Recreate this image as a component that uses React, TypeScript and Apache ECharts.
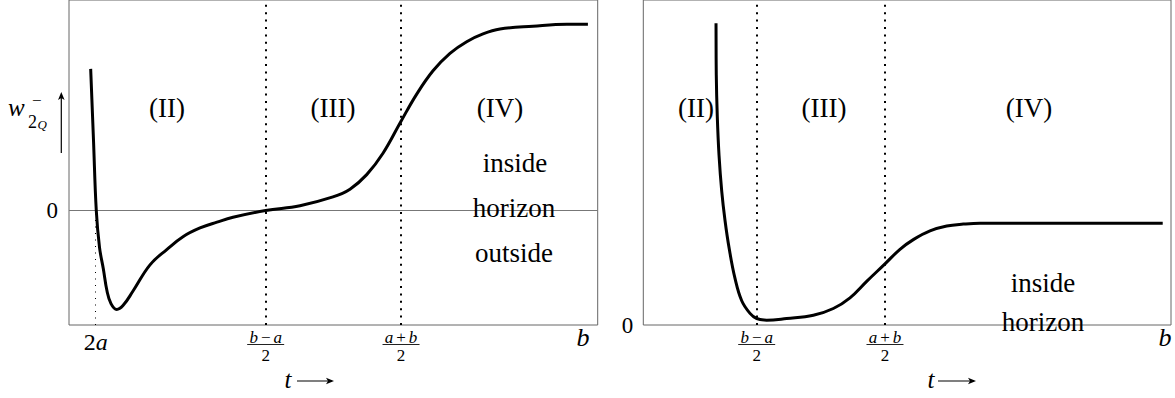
import React, { useEffect, useRef } from 'react';
import * as echarts from 'echarts';

// ---- data (t as % of plotted range, w in arbitrary units) ----
const leftT = [4.10, 4.63, 5.16, 5.77, 6.49, 7.19, 7.94, 9.02, 10.21, 12.11, 15.32, 18.54, 21.56, 24.78, 27.99, 31.02, 37.20, 43.69, 49.93, 53.15, 56.31, 59.39, 62.80, 65.77, 68.85, 72.06, 75.22, 78.31, 81.52, 87.76, 94.19, 98.15];
const leftW = [1.46, 0.73, 0, -0.38, -0.60, -0.83, -0.96, -1.02, -0.98, -0.83, -0.56, -0.40, -0.27, -0.18, -0.12, -0.07, 0, 0.05, 0.14, 0.22, 0.37, 0.59, 0.92, 1.20, 1.44, 1.62, 1.74, 1.82, 1.87, 1.90, 1.92, 1.92];

const rightT = [13.78, 13.83, 14.02, 14.35, 14.86, 15.48, 16.30, 17.38, 18.65, 20.22, 21.49, 23.38, 27.17, 32.22, 36.01, 39.17, 42.33, 45.80, 48.64, 51.17, 54.33, 57.50, 60.64, 63.81, 75.0, 87.0, 98.43];
const rightW = [3.11, 2.58, 2.15, 1.75, 1.38, 1.08, 0.78, 0.48, 0.25, 0.12, 0.067, 0.05, 0.067, 0.10, 0.17, 0.28, 0.45, 0.63, 0.78, 0.88, 0.97, 1.02, 1.04, 1.05, 1.05, 1.05, 1.05];

const leftTicks = [5.05, 37.2, 62.8, 97.2];
const leftTickLabels = ['2a', 'b−a/2', 'a+b/2', 'b'];
const rightTicks = [21.49, 45.8, 98.86];
const rightTickLabels = ['b−a/2', 'a+b/2', 'b'];

const leftRegionLabels = ['(II)', '(III)', '(IV)'];
const leftHorizonLabels = ['inside', 'horizon', 'outside'];
const rightRegionLabels = ['(II)', '(III)', '(IV)'];
const rightHorizonLabels = ['inside', 'horizon'];

const FONT = 'Liberation Serif';

function fmtTick(label: string): string {
  if (label === '2a') return '{n|2}{i|a}';
  if (label === 'b') return '{b|b}';
  const [num, den] = label.split('/');
  const ch = Array.from(num);
  return `{ni|${ch[0]}}{op|${ch[1]}}{ni|${ch[2]}}\n{den|${den}}`;
}

const rich = {
  n: { fontFamily: FONT, fontSize: 24, lineHeight: 24, color: '#000' },
  i: { fontFamily: FONT, fontStyle: 'italic', fontSize: 24, lineHeight: 24, color: '#000' },
  b: { fontFamily: FONT, fontStyle: 'italic', fontSize: 26, lineHeight: 14, color: '#000' },
  ni: { fontFamily: FONT, fontStyle: 'italic', fontSize: 17, lineHeight: 14, color: '#000' },
  op: { fontFamily: FONT, fontSize: 17, lineHeight: 14, padding: [0, 3], color: '#000' },
  den: { fontFamily: FONT, fontSize: 17, lineHeight: 22, color: '#000' },
};

function txt(text: string, x: number, y: number, size: number, opts: any = {}) {
  return {
    type: 'text',
    x,
    y,
    z: 100,
    style: {
      text,
      fill: '#000',
      fontFamily: FONT,
      fontSize: size,
      fontStyle: opts.italic ? 'italic' : 'normal',
      align: opts.align || 'center',
      verticalAlign: 'middle',
    },
  };
}

function arrowRight(x1: number, x2: number, y: number) {
  return [
    { type: 'line', z: 100, shape: { x1, y1: y, x2: x2 - 2, y2: y }, style: { stroke: '#000', lineWidth: 1.2 } },
    { type: 'polygon', z: 100, shape: { points: [[x2, y], [x2 - 8, y - 3.3], [x2 - 6, y], [x2 - 8, y + 3.3]] }, style: { fill: '#000' } },
  ];
}

export default function App() {
  const ref = useRef<HTMLDivElement>(null);
  useEffect(() => {
    if (!ref.current) return;
    const chart = echarts.init(ref.current, undefined, { renderer: 'svg' });

    const dotted = { color: '#000', width: 2, type: [2, 5.4] };
    const axisCommon = {
      type: 'value',
      splitLine: { show: false },
      axisLine: { show: false },
      axisTick: { show: false },
    };

    const option: any = {
      animation: false,
      textStyle: { fontFamily: FONT },
      grid: [
        { left: 69, right: 577.3, top: -10, bottom: 73, show: true, borderColor: '#666', borderWidth: 1 },
        { left: 643.3, right: 4, top: -10, bottom: 73, show: true, borderColor: '#666', borderWidth: 1 },
      ],
      xAxis: [
        {
          ...axisCommon, gridIndex: 0, min: 0, max: 100,
          axisLabel: {
            customValues: leftTicks, margin: 5, rich, fontFamily: FONT,
            formatter: (v: number) => fmtTick(leftTickLabels[leftTicks.indexOf(v)] || ''),
          },
        },
        {
          ...axisCommon, gridIndex: 1, min: 0, max: 100,
          axisLabel: {
            customValues: rightTicks, margin: 5, rich, fontFamily: FONT,
            formatter: (v: number) => fmtTick(rightTickLabels[rightTicks.indexOf(v)] || ''),
          },
        },
      ],
      yAxis: [
        {
          ...axisCommon, gridIndex: 0, min: -1.18, max: 2.17,
          axisLabel: { customValues: [0], formatter: () => '0', margin: 11, fontFamily: FONT, fontSize: 23, color: '#000' },
        },
        {
          ...axisCommon, gridIndex: 1, min: 0, max: 3.35,
          axisLabel: { customValues: [0], formatter: () => '0', margin: 10, fontFamily: FONT, fontSize: 23, color: '#000', padding: [0, 0, 6, 0] },
        },
      ],
      series: [
        {
          type: 'line', xAxisIndex: 0, yAxisIndex: 0,
          data: leftT.map((t, i) => [t, leftW[i]]),
          showSymbol: false, smooth: 0.4,
          lineStyle: { color: '#000', width: 3 },
          z: 5,
          markLine: {
            silent: true, symbol: ['none', 'none'], label: { show: false },
            z: 3,
            data: [
              { xAxis: leftTicks[1], lineStyle: dotted },
              { xAxis: leftTicks[2], lineStyle: dotted },
              [
                { coord: [leftTicks[0], -1.18], lineStyle: { color: '#000', width: 1, type: [1, 5.5] } },
                { coord: [leftTicks[0], 0] },
              ],
              { yAxis: 0, lineStyle: { color: '#777', width: 1, type: 'solid' } },
            ],
          },
        },
        {
          type: 'line', xAxisIndex: 1, yAxisIndex: 1,
          data: rightT.map((t, i) => [t, rightW[i]]),
          showSymbol: false, smooth: 0.4,
          lineStyle: { color: '#000', width: 3 },
          z: 5,
          markLine: {
            silent: true, symbol: ['none', 'none'], label: { show: false },
            z: 3,
            data: [
              { xAxis: rightTicks[0], lineStyle: dotted },
              { xAxis: rightTicks[1], lineStyle: dotted },
            ],
          },
        },
      ],
    };

    const graphics: any[] = [
      // left panel annotations
      txt(leftRegionLabels[0], 167, 108, 27),
      txt(leftRegionLabels[1], 333, 108, 27),
      txt(leftRegionLabels[2], 500, 108, 27),
      txt(leftHorizonLabels[0], 515, 163, 27),
      txt(leftHorizonLabels[1], 514, 208, 27),
      txt(leftHorizonLabels[2], 514, 253, 27),
      // right panel annotations
      txt(rightRegionLabels[0], 696, 108, 27),
      txt(rightRegionLabels[1], 824, 108, 27),
      txt(rightRegionLabels[2], 1029, 108, 27),
      txt(rightHorizonLabels[0], 1043, 283, 27),
      txt(rightHorizonLabels[1], 1043, 322, 27),
      // y-axis name w^-_{2_Q} with arrow
      txt('w', 8, 107, 25, { italic: true, align: 'left' }),
      txt('−', 32, 100, 17, { align: 'left' }),
      txt('2', 28, 121.5, 18, { align: 'left' }),
      txt('Q', 37.5, 124, 13, { italic: true, align: 'left' }),
      { type: 'line', z: 100, shape: { x1: 61.3, y1: 153, x2: 61.3, y2: 96 }, style: { stroke: '#000', lineWidth: 1.2 } },
      { type: 'polygon', z: 100, shape: { points: [[61.3, 92], [58, 100], [61.3, 98], [64.6, 100]] }, style: { fill: '#000' } },
      // t --> labels
      txt('t', 288, 379, 25, { italic: true }),
      ...arrowRight(297, 334, 381),
      txt('t', 931, 379, 25, { italic: true }),
      ...arrowRight(938, 976, 381),
    ];

    chart.setOption(option);

    // fraction bars under the tick-label numerators, placed through the axes' own scales
    const addBars = (ticks: number[], labels: string[], xAxisIndex: number) => {
      ticks.forEach((v, i) => {
        if (labels[i].indexOf('/') < 0) return;
        const px = chart.convertToPixel({ xAxisIndex }, v) as number;
        graphics.push({
          type: 'line', z: 100,
          shape: { x1: px - 18.5, y1: 344.5, x2: px + 18.5, y2: 344.5 },
          style: { stroke: '#222', lineWidth: 1 },
        });
      });
    };
    addBars(leftTicks, leftTickLabels, 0);
    addBars(rightTicks, rightTickLabels, 1);

    chart.setOption({ graphic: graphics });
    return () => chart.dispose();
  }, []);

  return (
    <>
      <style>{`#wchart text { font-family: 'Liberation Serif' !important; }`}</style>
      <div
        id="wchart"
        ref={ref}
        style={{ position: 'absolute', left: 0, top: 0, width: 1175, height: 398, background: '#fff' }}
      />
    </>
  );
}
